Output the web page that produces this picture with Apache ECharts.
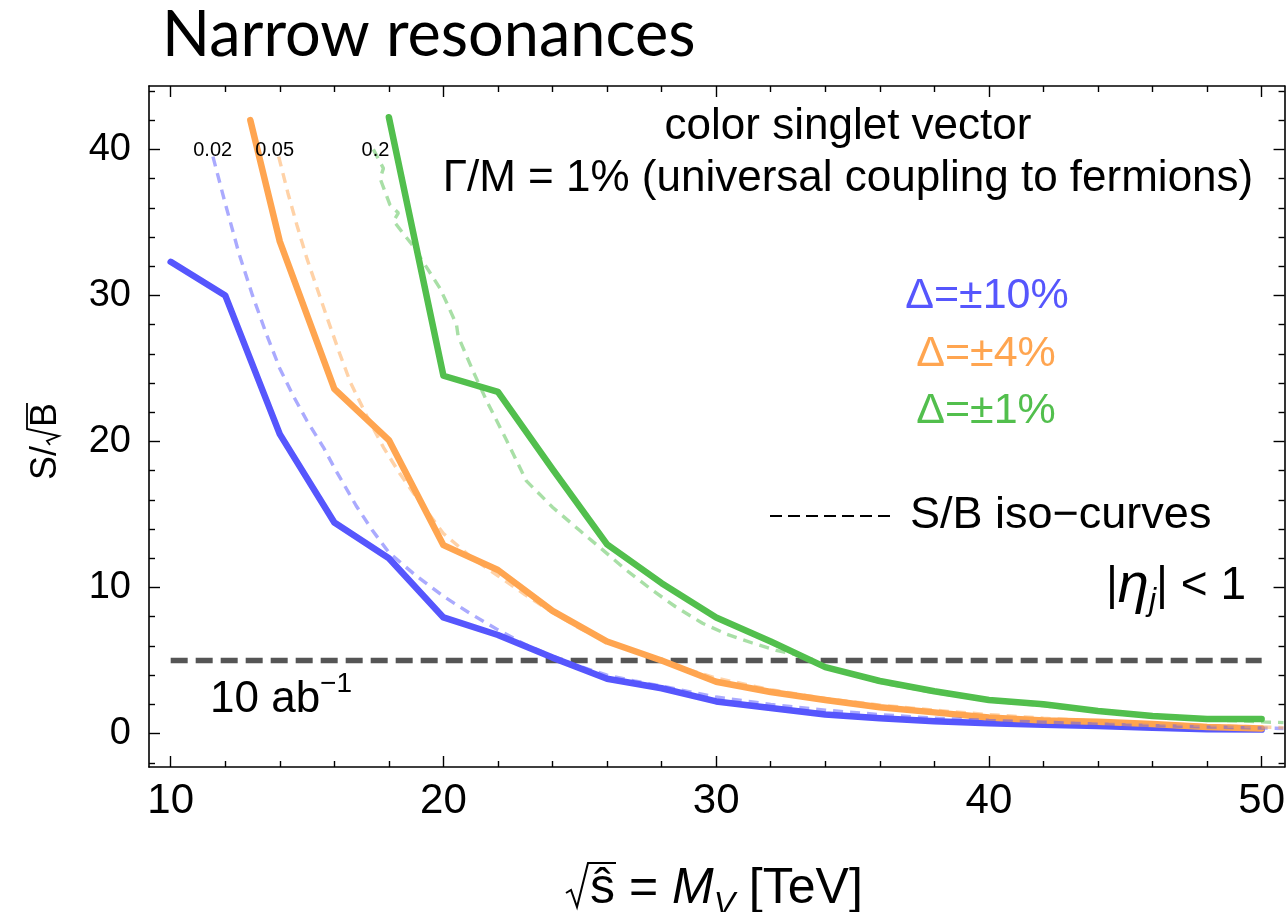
<!DOCTYPE html>
<html>
<head>
<meta charset="utf-8">
<title>Narrow resonances</title>
<script src="https://cdn.jsdelivr.net/npm/echarts@6/dist/echarts.min.js"></script>
<style>
  html, body { margin: 0; padding: 0; background: #fff; }
  #chart { width: 1288px; height: 912px; }
</style>
</head>
<body>
<div id="chart"></div>
<script>
// sqrt(s-hat) = M_V [TeV], sampling of the solid curves
const massTeV = [10, 12, 14, 16, 18, 20, 22, 24, 26, 28, 30, 32, 34, 36, 38, 40, 42, 44, 46, 48, 50]

// S/sqrt(B) for the three systematics, solid lines
const blueSolid = [32.3, 30.0, 20.5, 14.45, 12.0, 7.95, 6.75, 5.2, 3.75, 3.1, 2.2, 1.75, 1.3, 1.05, 0.85, 0.7, 0.6, 0.52, 0.4, 0.3, 0.27]
// orange enters the frame where it is clipped at 42, then 14..50 TeV
const orangeEntry = [12.92, 42]
const orangeSolid = [33.7, 23.6, 20.1, 12.9, 11.2, 8.4, 6.3, 5.0, 3.55, 2.85, 2.3, 1.8, 1.45, 1.1, 0.9, 0.8, 0.65, 0.45, 0.35]
// green 18..50 TeV
const greenSolid = [42.2, 24.5, 23.4, 18.1, 12.95, 10.3, 7.95, 6.3, 4.55, 3.6, 2.9, 2.3, 2.0, 1.55, 1.2, 1.0, 1.0]

// S/B iso-curves (dashed)
const iso002 = [[11.55, 39.5], [12, 36.3], [12.5, 32.9], [13, 30.0], [13.5, 27.4], [14, 25.0], [14.5, 23.1], [15, 21.4], [15.6, 19.6], [16, 18.2], [16.8, 15.6], [17.4, 13.9], [18, 12.4], [19, 10.8], [20, 9.4], [21, 8.2], [22, 7.1], [23, 6.1], [24, 5.3], [25, 4.6], [26, 4.0], [27, 3.6], [28, 3.25], [30, 2.5], [32, 2.0], [34, 1.6], [36, 1.3], [38, 1.05], [40, 0.9], [42, 0.78], [44, 0.65], [46, 0.55], [48, 0.45], [50, 0.38], [50.8, 0.35]]
const iso005 = [[13.96, 39.5], [14.3, 37.0], [14.63, 34.8], [15, 32.5], [15.73, 28.5], [16.2, 26.0], [16.6, 24.0], [17.2, 21.7], [17.8, 19.6], [18.4, 17.8], [19, 16.2], [20, 13.7], [21, 12.1], [22, 10.8], [23, 9.5], [24, 8.3], [25, 7.2], [26, 6.3], [27, 5.6], [28, 4.95], [30, 3.8], [32, 3.0], [34, 2.4], [36, 1.95], [38, 1.6], [40, 1.3], [42, 1.05], [44, 0.85], [46, 0.7], [48, 0.55], [50, 0.45], [50.8, 0.4]]
const iso02 = [[17.43, 40.0], [17.6, 39.4], [17.8, 38.7], [17.68, 38.0], [18.04, 36.2], [18.35, 35.65], [18.17, 35.1], [18.84, 33.5], [19.39, 31.9], [19.87, 30.5], [20.12, 29.5], [20.48, 28.0], [20.54, 27.2], [21.09, 24.8], [21.58, 22.8], [22.31, 20.1], [23.04, 17.3], [24, 15.5], [25, 13.9], [25.7, 12.8], [26.7, 11.2], [27.67, 9.8], [28.5, 8.7], [29.5, 7.55], [30.4, 6.8], [31.33, 6.2], [32.2, 5.7], [33.16, 5.3], [34, 4.6], [36, 3.5], [38, 2.8], [40, 2.25], [42, 1.9], [44, 1.5], [46, 1.15], [48, 0.95], [50, 0.8], [50.8, 0.75]]

// labels at the top end of the iso-curves
const isoNames = ['0.02', '0.05', '0.2']
const isoLabelX = [11.54, 13.81, 17.51]
const isoLabelY = [39.9, 39.9, 39.9]

// 5 sigma line
const discoveryLevel = 5
const discoverySpan = [10, 50]

// axis range and ticks
const xRange = [9.205, 50.84]
const yRange = [-2.29, 44.34]
const xMajorTicks = [10, 20, 30, 40, 50]
const xMinorTicks = [12, 14, 16, 18, 22, 24, 26, 28, 32, 34, 36, 38, 42, 44, 46, 48]
const yMajorTicks = [0, 10, 20, 30, 40]
const yMinorTicks = [-2, 2, 4, 6, 8, 12, 14, 16, 18, 22, 24, 26, 28, 32, 34, 36, 38, 42, 44]

const BLUE = '#5656fd'
const ORANGE = '#ffa550'
const GREEN = '#52bf4d'
const SANS = 'Liberation Sans, Arial, sans-serif'

const chart = echarts.init(document.getElementById('chart'))

const frameAxis = (position, range, ticks, len, showLine, label) => ({
  type: 'value',
  position,
  min: range[0],
  max: range[1],
  axisLine: { show: showLine, onZero: false, lineStyle: { color: '#000', width: 1.6 } },
  axisTick: { show: true, inside: true, length: len, customValues: ticks, lineStyle: { color: '#000', width: 1.4 } },
  axisLabel: label ? Object.assign({ show: true, customValues: ticks }, label) : { show: false },
  splitLine: { show: false },
  minorTick: { show: false }
})

const zip = (xs, ys) => ys.map((y, i) => [xs[i], y])

const solid = (name, color, data) => ({
  name, type: 'line', data, showSymbol: false, z: 3,
  lineStyle: { color, width: 6.5, cap: 'round', join: 'round' }
})

const dashed = (name, color, data, idx) => ({
  name, type: 'line', data, showSymbol: false, z: 4,
  lineStyle: { color, width: 3.4, type: [10, 7] },
  markPoint: {
    symbol: 'circle', symbolSize: 1, silent: true,
    itemStyle: { color: 'rgba(0,0,0,0)' },
    label: { show: true, position: 'inside', formatter: isoNames[idx], color: '#000', fontSize: 20, fontFamily: SANS },
    data: [{ coord: [isoLabelX[idx], isoLabelY[idx]] }]
  }
})

const option = {
  animation: false,
  backgroundColor: '#fff',
  grid: { left: 149, right: 3, top: 86, bottom: 145 },
  xAxis: [
    frameAxis('bottom', xRange, xMajorTicks, 11, true, { margin: 13, fontSize: 42, fontFamily: SANS, color: '#000' }),
    frameAxis('bottom', xRange, xMinorTicks, 6, false, null),
    frameAxis('top', xRange, xMajorTicks, 11, true, null),
    frameAxis('top', xRange, xMinorTicks, 6, false, null)
  ],
  yAxis: [
    frameAxis('left', yRange, yMajorTicks, 11, true, { margin: 18, fontSize: 38, fontFamily: SANS, color: '#000' }),
    frameAxis('left', yRange, yMinorTicks, 6, false, null),
    frameAxis('right', yRange, yMajorTicks, 11, true, null),
    frameAxis('right', yRange, yMinorTicks, 6, false, null)
  ],
  series: [
    {
      name: '5 sigma', type: 'line', z: 2, showSymbol: false,
      data: discoverySpan.map(x => [x, discoveryLevel]),
      lineStyle: { color: '#555', width: 5.5, type: [17, 8] }
    },
    solid('Δ=±10%', BLUE, zip(massTeV, blueSolid)),
    solid('Δ=±4%', ORANGE, [orangeEntry].concat(zip(massTeV.slice(2), orangeSolid))),
    solid('Δ=±1%', GREEN, zip(massTeV.slice(4), greenSolid)),
    dashed('S/B 0.02', 'rgba(86,86,253,0.5)', iso002, 0),
    dashed('S/B 0.05', 'rgba(255,165,80,0.5)', iso005, 1),
    dashed('S/B 0.2', 'rgba(82,191,77,0.5)', iso02, 2)
  ],
  graphic: [
    { type: 'text', x: 162, y: 36, style: { text: 'Narrow resonances', font: '63px Lato, sans-serif', fill: '#000', align: 'left', verticalAlign: 'middle' } },
    { type: 'text', x: 848, y: 127, style: { text: 'color singlet vector', font: '44px ' + SANS, fill: '#000', align: 'center', verticalAlign: 'middle' } },
    { type: 'text', x: 848, y: 179, style: { text: 'Γ/M = 1% (universal coupling to fermions)', font: '44px ' + SANS, fill: '#000', align: 'center', verticalAlign: 'middle' } },
    { type: 'text', x: 987, y: 296, style: { text: 'Δ=±10%', font: '43px ' + SANS, fill: BLUE, align: 'center', verticalAlign: 'middle' } },
    { type: 'text', x: 986, y: 354, style: { text: 'Δ=±4%', font: '43px ' + SANS, fill: ORANGE, align: 'center', verticalAlign: 'middle' } },
    { type: 'text', x: 986, y: 411, style: { text: 'Δ=±1%', font: '43px ' + SANS, fill: GREEN, align: 'center', verticalAlign: 'middle' } },
    { type: 'line', shape: { x1: 770, y1: 516, x2: 892, y2: 516 }, style: { stroke: '#000', lineWidth: 2, lineDash: [12, 6] } },
    { type: 'text', x: 910, y: 516, style: { text: 'S/B iso−curves', font: '45px ' + SANS, fill: '#000', align: 'left', verticalAlign: 'middle' } },
    {
      type: 'text', x: 1246, y: 586,
      style: {
        text: '|{it|η}{sub|j}| < 1', font: '46px ' + SANS, fill: '#000', align: 'right', verticalAlign: 'middle', lineHeight: 62,
        rich: { it: { fontStyle: 'italic', fontSize: 56, fontFamily: SANS }, sub: { fontStyle: 'italic', fontSize: 32, fontFamily: SANS, verticalAlign: 'bottom' } }
      }
    },
    {
      type: 'text', x: 210, y: 700,
      style: {
        text: '10 ab{sup|−1}', font: '44px ' + SANS, fill: '#000', align: 'left', verticalAlign: 'middle', lineHeight: 60,
        rich: { sup: { fontSize: 28, fontFamily: SANS, verticalAlign: 'top' } }
      }
    },
    // y axis title  S/sqrt(B)
    {
      type: 'group', x: 46, y: 440, rotation: Math.PI / 2,
      children: [
        { type: 'text', x: -40, y: 0, style: { text: 'S/', font: '36px ' + SANS, fill: '#000', align: 'left', verticalAlign: 'middle' } },
        { type: 'polyline', shape: { points: [[-5, 4], [-1, 1], [4, 13], [11, -19], [37, -19]] }, style: { stroke: '#000', lineWidth: 1.8, fill: null } },
        { type: 'text', x: 13, y: 0, style: { text: 'B', font: '36px ' + SANS, fill: '#000', align: 'left', verticalAlign: 'middle' } }
      ]
    },
    // x axis title  sqrt(s-hat) = M_V [TeV]
    {
      type: 'group', x: 566, y: 889,
      children: [
        { type: 'polyline', shape: { points: [[0, 4], [5, 1], [11, 18], [22, -26], [50, -26]] }, style: { stroke: '#000', lineWidth: 2, fill: null } },
        {
          type: 'text', x: 24, y: 0,
          style: {
            text: 'ŝ = {it|M}{sub|V} [TeV]', font: '50px ' + SANS, fill: '#000', align: 'left', verticalAlign: 'middle', lineHeight: 64,
            rich: { it: { fontStyle: 'italic', fontSize: 50, fontFamily: SANS }, sub: { fontStyle: 'italic', fontSize: 32, fontFamily: SANS, verticalAlign: 'bottom' } }
          }
        }
      ]
    }
  ]
}

chart.setOption(option)
window.addEventListener('resize', () => chart.resize())
</script>
</body>
</html>
